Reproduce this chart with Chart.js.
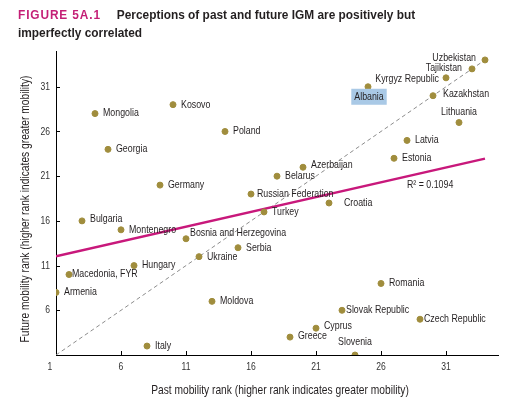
<!DOCTYPE html>
<html>
<head>
<meta charset="utf-8">
<script src="https://cdn.jsdelivr.net/npm/chart.js@4.4.1/dist/chart.umd.min.js"></script>
<style>
  html, body { margin:0; padding:0; background:#fff; }
  #wrap { position:relative; width:516px; height:397px; }
  #title { position:absolute; left:18px; top:6px; white-space:nowrap;
    font-family:'Liberation Sans',Arial,sans-serif;
    font-weight:bold; font-size:13.5px; line-height:18px; color:#231f20;
    transform:scaleX(0.88); transform-origin:0 0; }
  #title .fig { color:#c41f76; letter-spacing:1px; margin-right:18px; }
  canvas { position:absolute; left:0; top:0; }
</style>
</head>
<body>
<div id="wrap">
  <canvas id="c" width="516" height="397"></canvas>
  <div id="title"><span class="fig">FIGURE 5A.1</span>Perceptions of past and future IGM are positively but<br>imperfectly correlated</div>
</div>
<script>
// ---- data ----
const countries = ["Mongolia","Kosovo","Poland","Georgia","Germany","Russian Federation","Bulgaria","Montenegro",
  "Uzbekistan","Tajikistan","Kyrgyz Republic","Albania","Kazakhstan","Lithuania","Latvia","Estonia",
  "Azerbaijan","Belarus","Croatia","Turkey","Bosnia and Herzegovina","Serbia","Ukraine","Hungary",
  "Macedonia, FYR","Armenia","Moldova","Italy","Romania","Slovak Republic","Czech Republic","Cyprus","Greece","Slovenia"];
const pastRank   = [4,10,14,5,9,16,3,6, 34,33,31,25,30,32,28,27, 20,18,22,17,11,15,12,7, 2,1,13,8,26,23,29,21,19,24];
const futureRank = [28,29,26,24,20,19,16,15, 34,33,32,31,30,27,25,23, 22,21,18,17,14,13,12,11, 10,8,7,2,9,6,5,4,3,1];
const trendX = [1, 34];
const trendY = [12.04, 22.96];
const diagX = [1, 34];
const diagY = [1, 34];
const xTicks = [1,6,11,16,21,26,31];
const yTicks = [6,11,16,21,26,31];
const xTitle = 'Past mobility rank (higher rank indicates greater mobility)';
const yTitle = 'Future mobility rank (higher rank indicates greater mobility)';
const r2Label = "R\u00B2 = 0.1094";
const highlighted = ["Albania"];

// ---- label placement (style only): [dx, dy, align] ----
const labelPlace = {
  "Uzbekistan":[-9,-2,'right'], "Tajikistan":[-10,-1,'right'], "Kyrgyz Republic":[-7,1,'right'],
  "Albania":[1,10,'center'], "Lithuania":[0,-10,'center'], "Slovenia":[0,-13,'center'],
  "Kazakhstan":[10,-2,'left'], "Croatia":[15,0,'left'], "Bosnia and Herzegovina":[4,-6,'left'],
  "Macedonia, FYR":[3,0,'left'], "Slovak Republic":[4,0,'left'], "Czech Republic":[4,0,'left'],
  "Russian Federation":[6,0,'left'], "Cyprus":[8,-2,'left'], "Bulgaria":[8,-2,'left'],
  "Azerbaijan":[8,-2,'left'], "Greece":[8,-1,'left']
};

const FONT = "'Liberation Sans',Arial,sans-serif";
const pointColor = '#a08d3d';
const magenta = '#c8187b';
const textColor = '#231f20';

function narrowText(ctx, text, x, y, align, size, sx, rot){
  ctx.save();
  ctx.font = size + 'px ' + FONT;
  ctx.textAlign = align;
  ctx.textBaseline = 'middle';
  ctx.translate(x, y);
  if (rot) ctx.rotate(rot);
  ctx.scale(sx, 1);
  ctx.fillText(text, 0, 0);
  ctx.restore();
}

const labelPlugin = {
  id:'labels',
  afterDatasetsDraw(chart){
    const ctx = chart.ctx;
    const meta = chart.getDatasetMeta(0);
    const xs = chart.scales.x, ys = chart.scales.y;
    const S = 10.5, SX = 0.84;
    ctx.save();
    meta.data.forEach((pt, i) => {
      const name = countries[i];
      const p = labelPlace[name] || [8,0,'left'];
      const x = pt.x + p[0], y = pt.y + p[1];
      if (highlighted.includes(name)) {
        ctx.font = S + 'px ' + FONT;
        const w = ctx.measureText(name).width * SX;
        let left = p[2]==='center' ? x - w/2 : (p[2]==='right' ? x - w : x);
        ctx.fillStyle = '#a9c9e6';
        ctx.fillRect(left-3, y-8, w+6, 16);
      }
      ctx.fillStyle = textColor;
      narrowText(ctx, name, x, y, p[2], S, SX);
    });
    ctx.fillStyle = textColor;
    narrowText(ctx, r2Label, xs.getPixelForValue(28), ys.getPixelForValue(20), 'left', S, SX);
    // tick labels from the library's scales
    ctx.fillStyle = '#333';
    xs.ticks.forEach(t => narrowText(ctx, String(t.value), xs.getPixelForValue(t.value) - (t.value===1?6:0), ys.bottom + 12, 'center', 11, 0.78));
    ys.ticks.forEach(t => narrowText(ctx, String(t.value), xs.left - 6, ys.getPixelForValue(t.value), 'right', 11, 0.78));
    // axis titles
    ctx.fillStyle = textColor;
    narrowText(ctx, xTitle, (xs.left + xs.right)/2 + 3, 390, 'center', 12.8, 0.8);
    narrowText(ctx, yTitle, 25, (ys.top + ys.bottom)/2 + 6, 'center', 12.8, 0.8, -Math.PI/2);
    // inward ticks
    ctx.strokeStyle = '#000'; ctx.lineWidth = 1;
    ctx.beginPath();
    xTicks.slice(1).forEach(v => { const px = Math.round(xs.getPixelForValue(v))+0.5; ctx.moveTo(px, ys.bottom); ctx.lineTo(px, ys.bottom-4); });
    yTicks.forEach(v => { const py = Math.round(ys.getPixelForValue(v))+0.5; ctx.moveTo(xs.left, py); ctx.lineTo(xs.left+4, py); });
    ctx.stroke();
    ctx.restore();
  }
};

new Chart(document.getElementById('c'), {
  type:'scatter',
  data:{
    datasets:[
      { label:'Countries', data: pastRank.map((x,i)=>({x, y:futureRank[i]})),
        backgroundColor: pointColor, borderColor: pointColor, pointRadius:3, pointHoverRadius:3, order:0 },
      { type:'line', label:'Trend', data: trendX.map((x,i)=>({x, y:trendY[i]})),
        borderColor: magenta, borderWidth:2.5, pointRadius:0, fill:false, order:1 },
      { type:'line', label:'45 degree', data: diagX.map((x,i)=>({x, y:diagY[i]})),
        borderColor:'#8c8c8c', borderWidth:1, borderDash:[4,3], pointRadius:0, fill:false, order:2 }
    ]
  },
  options:{
    responsive:false, animation:false,
    layout:{ padding:{ top:51, right:18, left:0, bottom:0 } },
    plugins:{ legend:{display:false}, tooltip:{enabled:false}, title:{display:false} },
    scales:{
      x:{ type:'linear', min:1, max:35,
        afterBuildTicks(s){ s.ticks = xTicks.map(v=>({value:v})); },
        afterFit(s){ s.height = 42; },
        grid:{ display:true, drawOnChartArea:false, drawTicks:false, color:'rgba(0,0,0,0)' },
        border:{ display:true, color:'#000', width:1 },
        ticks:{ display:false },
        title:{ display:false }
      },
      y:{ type:'linear', min:1, max:35,
        afterBuildTicks(s){ s.ticks = yTicks.map(v=>({value:v})); },
        afterFit(s){ s.width = 56; },
        grid:{ display:true, drawOnChartArea:false, drawTicks:false, color:'rgba(0,0,0,0)' },
        border:{ display:true, color:'#000', width:1 },
        ticks:{ display:false },
        title:{ display:false }
      }
    }
  },
  plugins:[labelPlugin]
});
</script>
</body>
</html>
